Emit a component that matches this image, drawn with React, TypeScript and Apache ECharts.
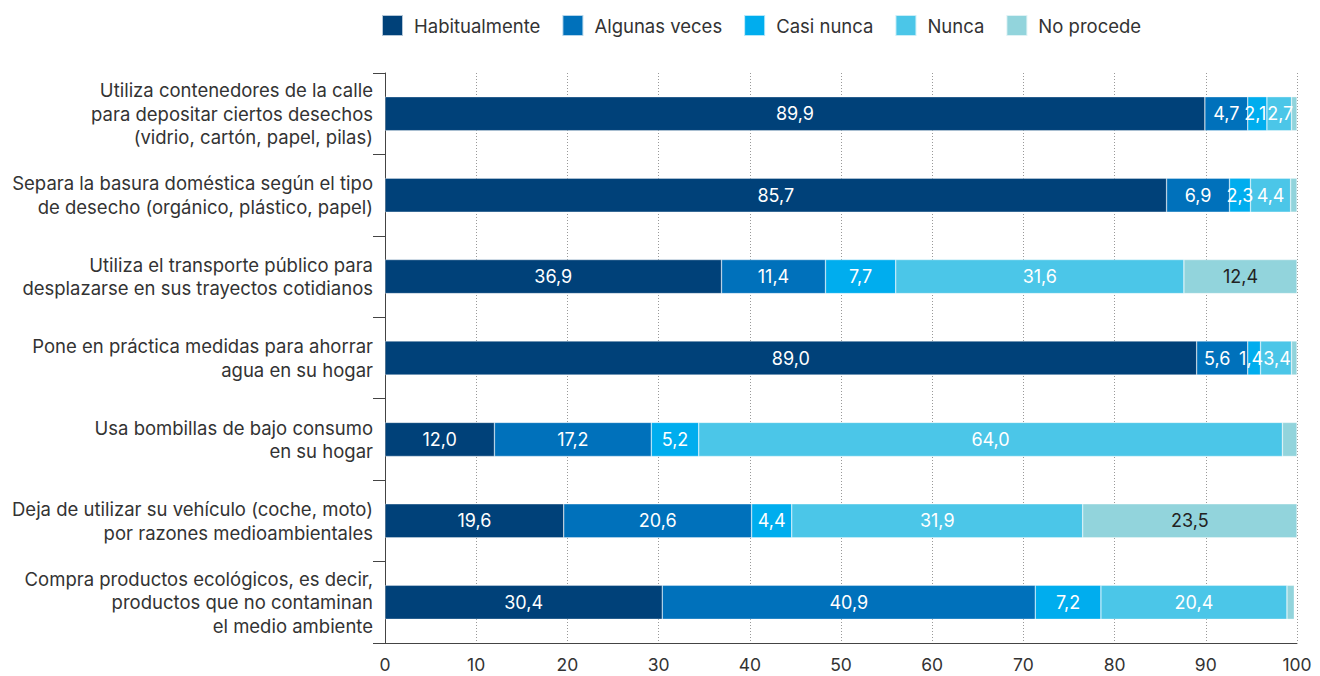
import React, { useEffect, useRef } from "react";
import * as echarts from "echarts";

const categories = [
  "Utiliza contenedores de la calle\npara depositar ciertos desechos\n(vidrio, cartón, papel, pilas)",
  "Separa la basura doméstica según el tipo\nde desecho (orgánico, plástico, papel)",
  "Utiliza el transporte público para\ndesplazarse en sus trayectos cotidianos",
  "Pone en práctica medidas para ahorrar\nagua en su hogar",
  "Usa bombillas de bajo consumo\nen su hogar",
  "Deja de utilizar su vehículo (coche, moto)\npor razones medioambientales",
  "Compra productos ecológicos, es decir,\nproductos que no contaminan\nel medio ambiente",
];

const seriesNames = ["Habitualmente", "Algunas veces", "Casi nunca", "Nunca", "No procede"];
const habitualmente = [89.9, 85.7, 36.9, 89.0, 12.0, 19.6, 30.4];
const algunasVeces = [4.7, 6.9, 11.4, 5.6, 17.2, 20.6, 40.9];
const casiNunca = [2.1, 2.3, 7.7, 1.4, 5.2, 4.4, 7.2];
const nunca = [2.7, 4.4, 31.6, 3.4, 64.0, 31.9, 20.4];
const noProcede = [0.6, 0.7, 12.4, 0.6, 1.6, 23.5, 0.8];
const seriesValues = [habitualmente, algunasVeces, casiNunca, nunca, noProcede];
const colors = ["#004179", "#0071bb", "#00adee", "#4bc6e8", "#92d4dc"];
const labelColors = ["#ffffff", "#ffffff", "#ffffff", "#ffffff", "#222222"];
const labelMin = [1, 1, 1, 1, 2];
const xTicks = [0, 10, 20, 30, 40, 50, 60, 70, 80, 90, 100];

// small horizontal nudges for crowded labels: "series-row" -> px
const labelNudge: Record<string, number> = { "1-3": -5, "2-3": -3, "3-3": 1, "2-0": -2, "3-0": 1 };

const FONT = "Inter, 'Noto Sans', sans-serif";

export default function App() {
  const ref = useRef<HTMLDivElement>(null);
  useEffect(() => {
    if (!ref.current) return;
    const chart = echarts.init(ref.current, null, { renderer: "svg" });
    chart.setOption({
      animation: false,
      textStyle: { fontFamily: FONT },
      legend: {
        top: 9,
        left: 376,
        itemWidth: 21,
        itemHeight: 21,
        itemGap: 21,
        icon: "rect",
        data: seriesNames,
        textStyle: { fontSize: 18.5, color: "#333", fontFamily: FONT, padding: [0, 0, 0, 6] },
      },
      grid: { left: 385, right: 23, top: 73, bottom: 33, containLabel: false },
      xAxis: {
        type: "value",
        min: xTicks[0],
        max: xTicks[xTicks.length - 1],
        interval: 10,
        axisLine: { show: true, lineStyle: { color: "#444", width: 1 } },
        axisTick: { show: false },
        axisLabel: { fontSize: 17.5, color: "#333", margin: 12, fontFamily: FONT },
        splitLine: { show: true, lineStyle: { color: "#999", type: [1, 2], width: 1 } },
      },
      yAxis: {
        type: "category",
        inverse: true,
        data: categories,
        axisLine: { show: true, lineStyle: { color: "#444", width: 1 } },
        axisTick: { show: true, length: 12, lineStyle: { color: "#444" } },
        axisLabel: {
          fontSize: 18.5,
          color: "#333",
          margin: 12,
          lineHeight: 23.5,
          align: "right",
          fontFamily: FONT,
        },
        splitLine: { show: false },
      },
      series: seriesNames.map((name, i) => ({
        name,
        type: "bar",
        stack: "total",
        barWidth: 34,
        itemStyle: { color: colors[i], borderColor: "rgba(255,255,255,0.7)", borderWidth: 0.5 },
        label: {
          show: true,
          position: "inside",
          color: labelColors[i],
          fontSize: 18,
          fontFamily: FONT,
          formatter: (p: any) =>
            p.value >= labelMin[i] ? p.value.toFixed(1).replace(".", ",") : "",
        },
        data: seriesValues[i].map((v, r) => {
          const nudge = labelNudge[`${i}-${r}`];
          return nudge ? { value: v, label: { offset: [nudge, 0] } } : v;
        }),
      })),
    });
    return () => chart.dispose();
  }, []);
  return (
    <div
      ref={ref}
      style={{ position: "fixed", left: 0, top: 0, width: 1320, height: 676, background: "#fff" }}
    />
  );
}
